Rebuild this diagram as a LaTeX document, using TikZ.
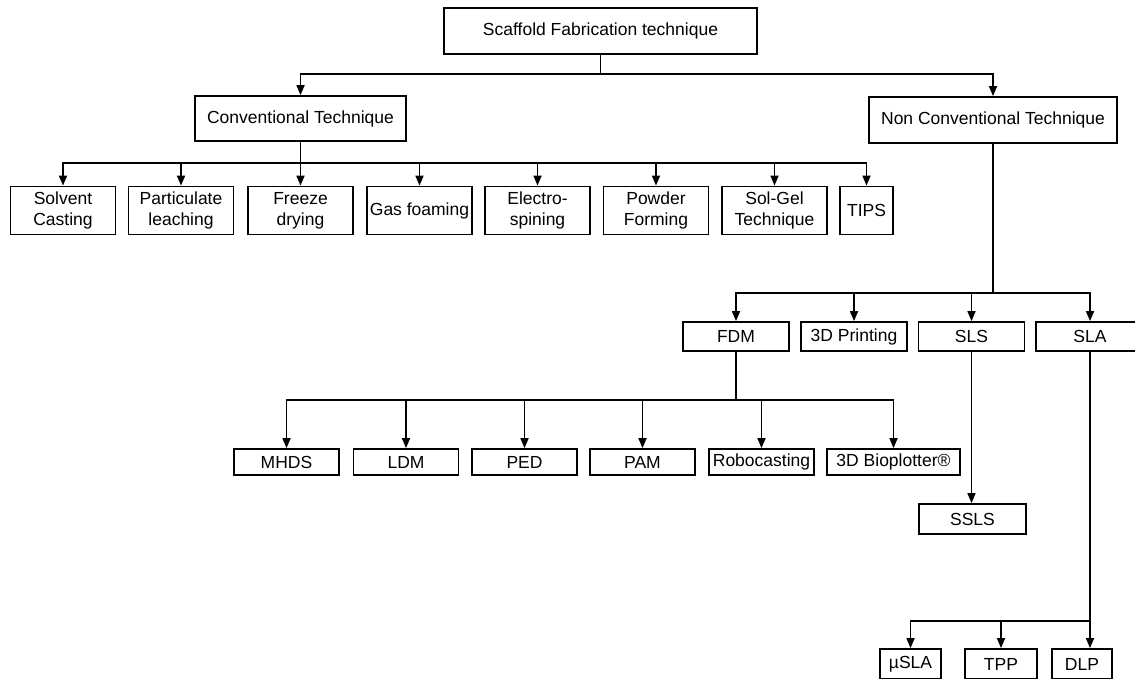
\documentclass[tikz,border=0pt]{standalone}
\usepackage{fontspec}
\setmainfont{Liberation Sans}
\usetikzlibrary{arrows.meta}

\begin{document}
\begin{tikzpicture}[x=1pt,y=-1pt,
  box/.style={draw, line width=1.8pt, inner sep=0pt, align=center, font=\fontsize{17.5}{21}\selectfont},
  conv/.style={box, minimum width=105pt, minimum height=48pt},
  sub/.style={box, minimum width=106pt, minimum height=29pt},
  leaf/.style={box, minimum width=105pt, minimum height=26pt},
  arr/.style={line width=1.7pt, -{Triangle[length=10pt,width=8pt]}}]
\useasboundingbox (0,0) rectangle (1135,678);
\clip (0,0) rectangle (1135,678);
% bus levels
\coordinate (bus1) at (0,74);
\coordinate (bus2) at (0,163);
\coordinate (bus3) at (0,293);
\coordinate (bus4) at (0,400);
\coordinate (bus5) at (0,621);
% top
\node[box, minimum width=313pt, minimum height=46pt] (root) at (600.5,31) {Scaffold Fabrication technique};
\node[box, minimum width=211pt, minimum height=45pt] (conv) at (300.5,118.5) {Conventional Technique};
\node[box, minimum width=248pt, minimum height=46pt] (nonconv) at (993,120) {Non Conventional Technique};
% conventional
\node[conv] (solvent) at (63,210.5) {Solvent\\Casting};
\node[conv] (partic) at (181,210.5) {Particulate\\leaching};
\node[conv] (freeze) at (300.5,210.5) {Freeze\\drying};
\node[conv] (gas) at (419.5,210.5) {Gas foaming};
\node[conv] (electro) at (537.5,210.5) {Electro-\\spining};
\node[conv] (powder) at (656,210.5) {Powder\\Forming};
\node[conv] (solgel) at (774.5,210.5) {Sol-Gel\\Technique};
\node[conv, minimum width=53pt] (tips) at (866.5,210.5) {TIPS};
% non conventional
\node[sub] (fdm) at (736,336.5) {FDM};
\node[sub] (print) at (854,336.5) {3D Printing};
\node[sub] (sls) at (971.5,336.5) {SLS};
\node[sub, minimum width=108pt] (sla) at (1090,336.5) {SLA};
% FDM
\node[leaf] (mhds) at (286.5,462) {MHDS};
\node[leaf] (ldm) at (406,462) {LDM};
\node[leaf] (ped) at (524.5,462) {PED};
\node[leaf] (pam) at (642.5,462) {PAM};
\node[leaf] (robo) at (761.5,462) {Robocasting};
\node[leaf, minimum width=133pt] (biopl) at (893.5,462) {3D Bioplotter®};
% SLS and SLA
\node[box, minimum width=107pt, minimum height=30pt] (ssls) at (972.5,519) {SSLS};
\node[box, minimum width=61pt, minimum height=30pt] (usla) at (910.5,664) {µSLA};
\node[box, minimum width=72pt, minimum height=30pt] (tpp) at (1001,664) {TPP};
\node[box, minimum width=60pt, minimum height=30pt] (dlp) at (1082,664) {DLP};
% connectors
\path[draw,arr] (root.south) -- (root.south |- bus1) -| (conv.north);
\path[draw,arr] (root.south) -- (root.south |- bus1) -| (nonconv.north);
\path[draw,arr] (conv.south) -- (conv.south |- bus2) -| (solvent.north);
\path[draw,arr] (conv.south) -- (conv.south |- bus2) -| (partic.north);
\path[draw,arr] (conv.south) -- (conv.south |- bus2) -| (freeze.north);
\path[draw,arr] (conv.south) -- (conv.south |- bus2) -| (gas.north);
\path[draw,arr] (conv.south) -- (conv.south |- bus2) -| (electro.north);
\path[draw,arr] (conv.south) -- (conv.south |- bus2) -| (powder.north);
\path[draw,arr] (conv.south) -- (conv.south |- bus2) -| (solgel.north);
\path[draw,arr] (conv.south) -- (conv.south |- bus2) -| (tips.north);
\path[draw,arr] (nonconv.south) -- (nonconv.south |- bus3) -| (fdm.north);
\path[draw,arr] (nonconv.south) -- (nonconv.south |- bus3) -| (print.north);
\path[draw,arr] (nonconv.south) -- (nonconv.south |- bus3) -| (sls.north);
\path[draw,arr] (nonconv.south) -- (nonconv.south |- bus3) -| (sla.north);
\path[draw,arr] (fdm.south) -- (fdm.south |- bus4) -| (mhds.north);
\path[draw,arr] (fdm.south) -- (fdm.south |- bus4) -| (ldm.north);
\path[draw,arr] (fdm.south) -- (fdm.south |- bus4) -| (ped.north);
\path[draw,arr] (fdm.south) -- (fdm.south |- bus4) -| (pam.north);
\path[draw,arr] (fdm.south) -- (fdm.south |- bus4) -| (robo.north);
\path[draw,arr] (fdm.south) -- (fdm.south |- bus4) -| (biopl.north);
\path[draw,arr] (sls.south) -- (sls.south |- ssls.north);
\path[draw,arr] (sla.south) -- (sla.south |- dlp.north);
\path[draw,arr] (sla.south) -- (sla.south |- bus5) -| (usla.north);
\path[draw,arr] (sla.south) -- (sla.south |- bus5) -| (tpp.north);
\end{tikzpicture}
\end{document}
